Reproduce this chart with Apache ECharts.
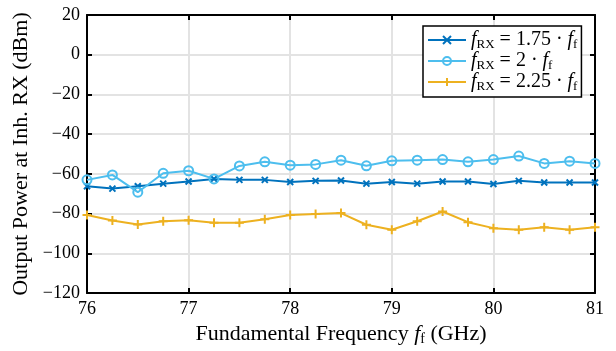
<!DOCTYPE html>
<html><head><meta charset="utf-8">
<script src="https://cdn.jsdelivr.net/npm/echarts@6/dist/echarts.min.js"></script>
<style>html,body{margin:0;padding:0;background:#fff;overflow:hidden}#c{width:616px;height:351px}</style>
</head><body><div id="c"></div>
<script>
const freqs = [76,76.25,76.5,76.75,77,77.25,77.5,77.75,78,78.25,78.5,78.75,79,79.25,79.5,79.75,80,80.25,80.5,80.75,81];
const p175 = [-66.2,-67.4,-66.2,-64.9,-63.8,-62.5,-63,-63,-64.1,-63.5,-63.3,-64.9,-64.1,-64.9,-63.8,-63.8,-65.1,-63.5,-64.3,-64.3,-64.3];
const p200 = [-63,-60.5,-69.2,-59.7,-58.4,-62.5,-56,-53.9,-55.6,-55.2,-53.1,-55.9,-53.4,-53.1,-52.8,-53.9,-52.8,-51,-54.7,-53.6,-54.7];
const p225 = [-80.7,-83.5,-85.5,-83.8,-83.3,-84.6,-84.6,-82.8,-80.7,-80.2,-79.7,-85.6,-88.1,-83.8,-78.9,-84.3,-87.3,-88.1,-86.8,-88.1,-86.8];
const xTicks = {min:76, max:81, interval:1};
const yTicks = {min:-120, max:20, interval:20};
const seriesNames = ['1.75','2','2.25'];

const FONT = 'Liberation Serif';
const fmtNum = v => (v < 0 ? '\u2212' + Math.abs(v) : String(v));
const pairs = arr => freqs.map((f,i)=>[f,arr[i]]);
const C1='#0072BD', C2='#4DBEEE', C3='#EDB120';
const mkRich = (fs, ss, pad) => ({
  i:{fontFamily:FONT,fontStyle:'italic',fontSize:fs,color:'#000'},
  s:{fontFamily:FONT,fontSize:ss,color:'#000',verticalAlign:'bottom',padding:[pad,0,0,0]},
  t:{fontFamily:FONT,fontSize:fs,color:'#000'}
});
const chart = echarts.init(document.getElementById('c'));
const axisCommon = () => ({
  axisLine:{show:true,onZero:false,lineStyle:{color:'#000',width:2}},
  axisTick:{show:true,inside:true,length:5,lineStyle:{color:'#000',width:2}},
});
chart.setOption({
  animation:false,
  grid:{left:87,right:21,top:15,bottom:52},
  legend:{
    left:423, top:26, orient:'vertical',
    backgroundColor:'#fff', borderColor:'#000', borderWidth:1.5, borderRadius:0,
    padding:[4,4,4,4], itemGap:0, itemWidth:38, itemHeight:10,
    data:seriesNames,
    formatter: n => '{i|f}{s|RX}{t| = ' + n + ' \u00b7 }{i|f}{s|f}',
    textStyle:{rich:mkRich(20,13,9), fontFamily:FONT, fontSize:20}
  },
  xAxis:[
    Object.assign({type:'value',min:xTicks.min,max:xTicks.max,interval:xTicks.interval,
      name:'{t|Fundamental Frequency }{i|f}{s|f}{t| (GHz)}', nameLocation:'middle', nameGap:28,
      nameTextStyle:{rich:mkRich(22,14,10)},
      axisLabel:{fontFamily:FONT,fontSize:18,color:'#000',margin:7},
      splitLine:{show:true,lineStyle:{color:'#e3e3e3',width:2}}},axisCommon()),
    Object.assign({type:'value',position:'top',min:xTicks.min,max:xTicks.max,interval:xTicks.interval,
      axisLabel:{show:false},splitLine:{show:false}},axisCommon())
  ],
  yAxis:[
    Object.assign({type:'value',min:yTicks.min,max:yTicks.max,interval:yTicks.interval,
      name:'Output Power at Inh. RX (dBm)', nameLocation:'middle', nameGap:54,
      nameTextStyle:{fontFamily:FONT,fontSize:22,color:'#000'},
      axisLabel:{fontFamily:FONT,fontSize:18,color:'#000',margin:7,formatter:fmtNum},
      splitLine:{show:true,lineStyle:{color:'#e3e3e3',width:2}}},axisCommon()),
    Object.assign({type:'value',position:'right',min:yTicks.min,max:yTicks.max,interval:yTicks.interval,
      axisLabel:{show:false},splitLine:{show:false}},axisCommon())
  ],
  series:[
    {name:seriesNames[0],type:'line',data:pairs(p175),lineStyle:{color:C1,width:2},
     symbol:'path://M0,0L10,10M10,0L0,10',symbolSize:6,
     itemStyle:{color:C1,borderColor:C1,borderWidth:2}},
    {name:seriesNames[1],type:'line',data:pairs(p200),lineStyle:{color:C2,width:2},
     symbol:'circle',symbolSize:9,
     itemStyle:{color:'rgba(255,255,255,0)',borderColor:C2,borderWidth:2}},
    {name:seriesNames[2],type:'line',data:pairs(p225),lineStyle:{color:C3,width:2},
     symbol:'path://M5,0L5,10M0,5L10,5',symbolSize:9,
     itemStyle:{color:C3,borderColor:C3,borderWidth:2}}
  ]
});
</script></body></html>
